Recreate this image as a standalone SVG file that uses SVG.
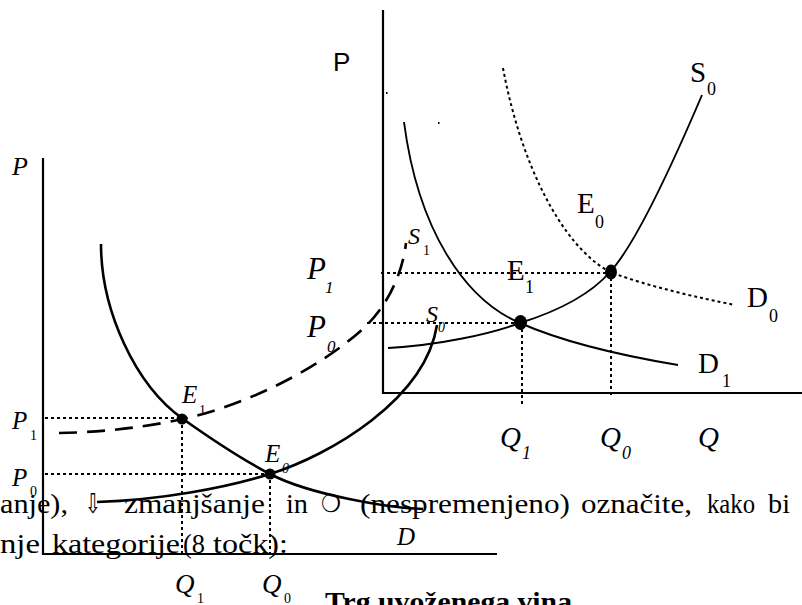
<svg xmlns="http://www.w3.org/2000/svg" width="802" height="605" viewBox="0 0 802 605">
<style>
.txt{font-family:"Liberation Serif",serif;font-size:27px;fill:#000}
.sym{font-family:"DejaVu Sans",sans-serif;fill:#000}
.lab{font-family:"Liberation Serif",serif;fill:#000}
.it{font-style:italic}
.ax{stroke:#000;stroke-width:2.2;fill:none}
.thick{stroke:#000;stroke-width:2.6;fill:none}
.thin{stroke:#000;stroke-width:1.9;fill:none}
.dash{stroke:#000;stroke-width:2.6;fill:none;stroke-dasharray:18 10}
.dot{stroke:#000;stroke-width:2;fill:none;stroke-dasharray:3 3}
.bold{font-family:"Liberation Serif",serif;font-weight:bold;font-size:28px;fill:#000}
</style>
<rect width="802" height="605" fill="#fff"/>
<g id="paragraph">
<text class="txt" x="0" y="513" textLength="68" lengthAdjust="spacingAndGlyphs">anje),</text>
<text class="sym" x="85" y="513" font-size="27" textLength="16" lengthAdjust="spacingAndGlyphs">⇩</text>
<text class="txt" x="124" y="513" textLength="141" lengthAdjust="spacingAndGlyphs">zmanjšanje</text>
<text class="txt" x="286" y="513" textLength="22" lengthAdjust="spacingAndGlyphs">in</text>
<text class="sym" x="321" y="512" font-size="25" font-weight="bold" textLength="20" lengthAdjust="spacingAndGlyphs">❍</text>
<text class="txt" x="360" y="513" textLength="210" lengthAdjust="spacingAndGlyphs">(nespremenjeno)</text>
<text class="txt" x="581" y="513" textLength="111" lengthAdjust="spacingAndGlyphs">označite,</text>
<text class="txt" x="707" y="513" textLength="48" lengthAdjust="spacingAndGlyphs">kako</text>
<text class="txt" x="768" y="513" textLength="22" lengthAdjust="spacingAndGlyphs">bi</text>
<text class="txt" x="0" y="553" textLength="40" lengthAdjust="spacingAndGlyphs">nje</text>
<text class="txt" x="52" y="553" textLength="128" lengthAdjust="spacingAndGlyphs">kategorije</text>
<text class="txt" x="183" y="553" textLength="22" lengthAdjust="spacingAndGlyphs">(8</text>
<text class="txt" x="213" y="553" textLength="75" lengthAdjust="spacingAndGlyphs">točk):</text>
<text class="bold" x="325" y="611" textLength="247" lengthAdjust="spacingAndGlyphs">Trg uvoženega vina</text>
</g>
<g id="connectors">
<path class="ax" d="M383 10 V393 H802"/>
<rect x="386" y="92" width="1.5" height="2" fill="#000"/>
<rect x="438" y="122" width="1.5" height="2" fill="#000"/>
<path class="dot" d="M381 273 H610"/>
<path class="dot" d="M367 323 H520"/>
<path class="dot" d="M522 323 V405"/>
<path class="dot" d="M611 272 V397"/>
<path class="thin" d="M404 122 C418 230 465 300 520 323 C570 345 630 357 678 365"/>
<path class="dot" d="M503 68 C520 160 560 245 610 272 C650 287 700 298 735 305"/>
<path class="thin" d="M388 348 C440 345 490 334 520 323 C555 312 590 295 610 272 C635 245 670 170 702 95"/>
<path class="ax" d="M43 158 V554 H497"/>
<path class="dot" d="M45 418 H183"/>
<path class="dot" d="M45 474 H270"/>
<path class="dot" d="M182 419 V553"/>
<path class="dot" d="M270 474 V553"/>
<path class="thick" d="M101 244 C101 310 135 385 183 419 C207 436 245 461 270 474 C310 495 390 508 423 509"/>
<path class="thick" d="M97 502 C160 500 225 488 270 474 C330 455 425 400 437 325"/>
<path class="dash" d="M59 433 C110 432 150 426 183 419 C240 407 320 370 367 325 C390 302 403 270 406 243"/>
</g>
<g id="node-E1-right"><ellipse cx="520.5" cy="322.5" rx="6.5" ry="7.5" fill="#000"/></g>
<g id="node-E0-right"><ellipse cx="611" cy="272" rx="6" ry="7.5" fill="#000"/></g>
<g id="node-E1-left"><circle cx="182" cy="419" r="5.5" fill="#000"/></g>
<g id="node-E0-left"><circle cx="270" cy="474" r="5.5" fill="#000"/></g>
<g id="labels-right">
<text x="333" y="71" font-family="Liberation Sans, sans-serif" font-size="26">P</text>
<text class="lab" x="690" y="82" font-size="29">S</text><text class="lab" x="707" y="95" font-size="18">0</text>
<text class="lab" x="577" y="213" font-size="29">E</text><text class="lab" x="595" y="228" font-size="18">0</text>
<text class="lab" x="507" y="280" font-size="29">E</text><text class="lab" x="525" y="293" font-size="18">1</text>
<text class="lab" x="747" y="307" font-size="29">D</text><text class="lab" x="769" y="322" font-size="18">0</text>
<text class="lab" x="698" y="373" font-size="29">D</text><text class="lab" x="722" y="387" font-size="18">1</text>
<text class="lab it" x="500" y="447" font-size="29">Q</text><text class="lab it" x="522" y="459" font-size="18">1</text>
<text class="lab it" x="600" y="447" font-size="29">Q</text><text class="lab it" x="622" y="459" font-size="18">0</text>
<text class="lab it" x="698" y="447" font-size="29">Q</text>
<text class="lab it" x="307" y="279" font-size="31">P</text><text class="lab it" x="325" y="293" font-size="17">1</text>
<text class="lab it" x="307" y="337" font-size="31">P</text><text class="lab it" x="327" y="352" font-size="17">0</text>
<text class="lab it" x="408" y="244" font-size="24">S</text><text class="lab" x="423" y="255" font-size="14">1</text>
<text class="lab it" x="426" y="322" font-size="24">S</text><text class="lab it" x="438" y="332" font-size="14">0</text>
</g>
<g id="labels-left">
<text class="lab it" x="12" y="175" font-size="26">P</text>
<text class="lab it" x="12" y="429" font-size="25">P</text><text class="lab" x="30" y="440" font-size="14">1</text>
<text class="lab it" x="12" y="486" font-size="25">P</text><text class="lab" x="30" y="496" font-size="14">0</text>
<text class="lab it" x="182" y="403" font-size="25">E</text><text class="lab" x="199" y="415" font-size="14">1</text>
<text class="lab it" x="265" y="462" font-size="25">E</text><text class="lab it" x="282" y="473" font-size="14">0</text>
<text class="lab it" x="175" y="593" font-size="27">Q</text><text class="lab" x="197" y="603" font-size="14">1</text>
<text class="lab it" x="262" y="593" font-size="27">Q</text><text class="lab" x="284" y="603" font-size="14">0</text>
<text class="lab it" x="397" y="545" font-size="25">D</text>
</g>
</svg>
